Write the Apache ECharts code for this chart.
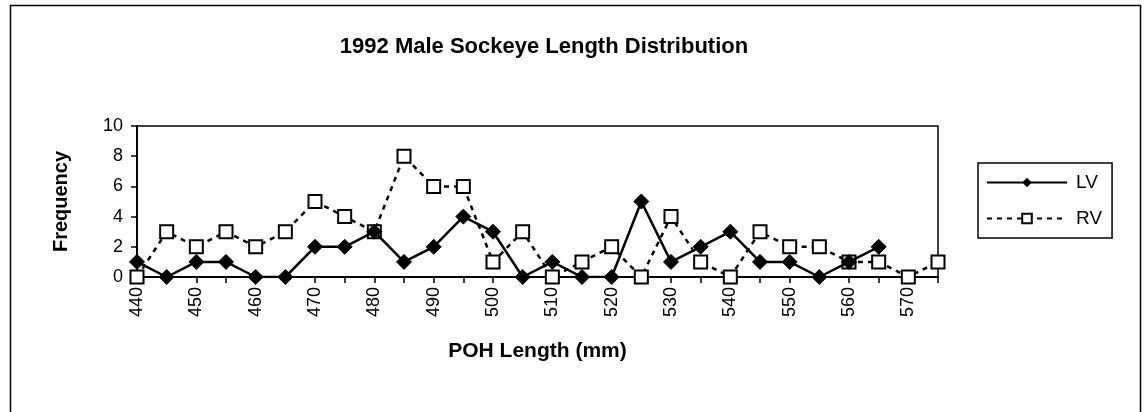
<!DOCTYPE html>
<html>
<head>
<meta charset="utf-8">
<script src="https://cdn.jsdelivr.net/npm/echarts@6/dist/echarts.min.js"></script>
<style>
html,body{margin:0;padding:0;background:#fff;}
#main{width:1147px;height:412px;}
</style>
</head>
<body>
<div id="main"></div>
<script>
const categories = ['440','445','450','455','460','465','470','475','480','485','490','495','500','505','510','515','520','525','530','535','540','545','550','555','560','565','570','575'];
const lvValues = [1,0,1,1,0,0,2,2,3,1,2,4,3,0,1,0,0,5,1,2,3,1,1,0,1,2,null,null];
const rvValues = [0,3,2,3,2,3,5,4,3,8,6,6,1,3,0,1,2,0,4,1,0,3,2,2,1,1,0,1];
const yTicks = [0,2,4,6,8,10];

const FONT = '"Liberation Sans", Arial, sans-serif';
const chart = echarts.init(document.getElementById('main'));
chart.setOption({
  backgroundColor: '#fff',
  animation: false,
  title: {
    text: '1992 Male Sockeye Length Distribution',
    left: 539, top: 31, textAlign: 'center',
    textStyle: {fontFamily: FONT, fontSize: 22, fontWeight: 'bold', color: '#000'}
  },
  graphic: [{
    type: 'rect', shape: {x: 10.5, y: 5.5, width: 1130, height: 420},
    style: {fill: 'none', stroke: '#000', lineWidth: 1.5}, silent: true
  }],
  legend: {
    orient: 'vertical', left: 978, top: 163, width: 140,
    padding: [10, 10, 10, 8], itemGap: 17,
    borderColor: '#000', borderWidth: 1.5,
    itemWidth: 80, itemHeight: 12,
    textStyle: {fontFamily: FONT, fontSize: 19, color: '#000', padding: [0, 0, 0, 4]},
    data: ['LV', 'RV']
  },
  grid: {left: 137, right: 209, top: 126, bottom: 135, show: true, borderColor: '#000', borderWidth: 1.5, backgroundColor: 'transparent'},
  xAxis: {
    type: 'category', data: categories, boundaryGap: false,
    name: 'POH Length (mm)', nameLocation: 'middle', nameGap: 64,
    nameTextStyle: {fontFamily: FONT, fontSize: 21, fontWeight: 'bold', color: '#000'},
    axisLine: {lineStyle: {color: '#000', width: 2}},
    axisTick: {interval: 0, length: 6, lineStyle: {color: '#000', width: 1.5}},
    axisLabel: {interval: 1, rotate: 90, margin: 10, fontFamily: FONT, fontSize: 18, color: '#000'},
    splitLine: {show: false}
  },
  yAxis: {
    type: 'value', min: 0, max: 10, interval: 2,
    name: 'Frequency', nameLocation: 'middle', nameGap: 66,
    nameTextStyle: {fontFamily: FONT, fontSize: 20, fontWeight: 'bold', color: '#000'},
    axisLine: {show: true, lineStyle: {color: '#000', width: 2}},
    axisTick: {show: true, length: 6, lineStyle: {color: '#000', width: 1.5}},
    axisLabel: {margin: 14, fontFamily: FONT, fontSize: 18, color: '#000',
      formatter: v => yTicks.includes(v) ? String(v) : ''},
    splitLine: {show: false}
  },
  series: [
    {
      name: 'LV', type: 'line', data: lvValues,
      symbol: 'diamond', symbolSize: 15,
      lineStyle: {color: '#000', width: 2.5, type: 'solid'},
      itemStyle: {color: '#000', borderColor: '#000'},
      z: 3
    },
    {
      name: 'RV', type: 'line', data: rvValues,
      symbol: 'rect', symbolSize: 13,
      lineStyle: {color: '#000', width: 2.5, type: [5, 5]},
      itemStyle: {color: '#fff', borderColor: '#000', borderWidth: 2},
      z: 2
    }
  ]
});
</script>
</body>
</html>
